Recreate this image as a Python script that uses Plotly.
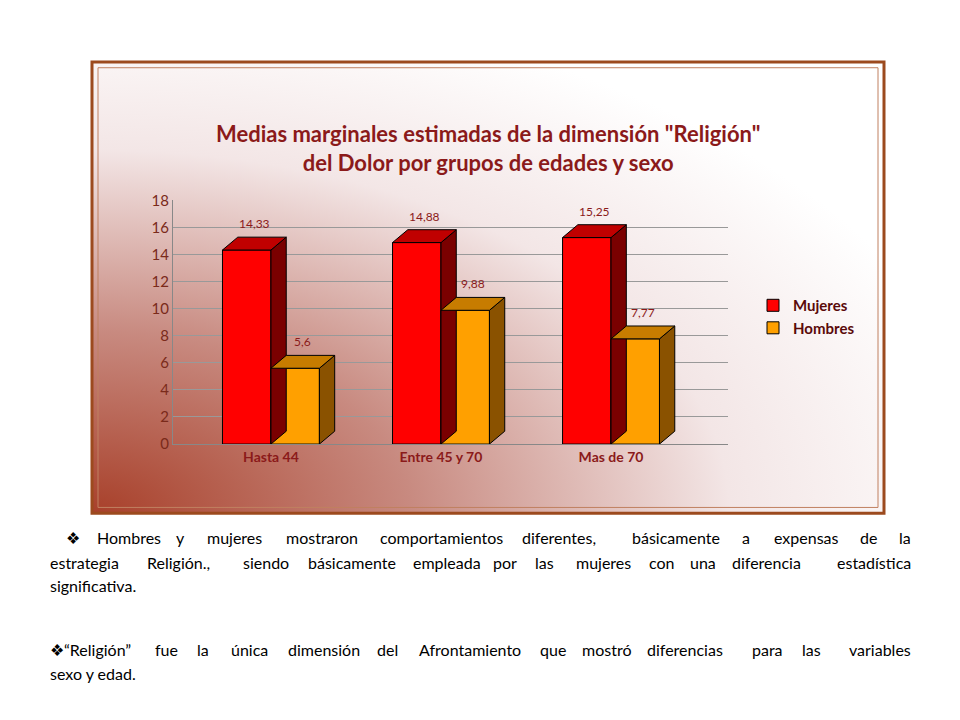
import base64
import plotly.graph_objects as go

# ---------------------------------------------------------------- data
groups = ["Hasta 44", "Entre 45 y 70", "Mas de 70"]
mujeres = [14.33, 14.88, 15.25]
hombres = [5.6, 9.88, 7.77]
mujeres_labels = ["14,33", "14,88", "15,25"]
hombres_labels = ["5,6", "9,88", "7,77"]
y_ticks = [0, 2, 4, 6, 8, 10, 12, 14, 16, 18]

# ---------------------------------------------------------------- style
W, H = 960, 720
bar_w = 0.285
dx, dy = 0.09, 0.95          # fake 3D depth in data units
series = [
    ("Mujeres", mujeres, mujeres_labels, -bar_w / 2, "#ff0000", "#7a0000", "#c00000"),
    ("Hombres", hombres, hombres_labels, bar_w / 2, "#ffa000", "#8a5200", "#c77c00"),
]
title_color = "#8b1a1a"
font_family = "Lato, 'Open Sans', sans-serif"


def px(x):
    return x / W


def py(y):
    return 1 - y / H


fig = go.Figure()
shapes = []
annotations = []

# background gradient inside the frame, as an svg image
svg = ('<svg xmlns="http://www.w3.org/2000/svg" width="792" height="463">'
       '<defs><radialGradient id="g" cx="0" cy="1" r="1.15" gradientUnits="objectBoundingBox">'
       '<stop offset="0" stop-color="#a8402a"/><stop offset="0.35" stop-color="#c88a80"/>'
       '<stop offset="0.7" stop-color="#f3e6e6"/><stop offset="1" stop-color="#ffffff"/>'
       '</radialGradient></defs><rect width="792" height="463" fill="url(#g)"/></svg>')
src = "data:image/svg+xml;base64," + base64.b64encode(svg.encode()).decode()
images = [dict(source=src, xref="paper", yref="paper", x=px(84), y=py(45),
               sizex=px(876) - px(84), sizey=py(45) - py(508), sizing="stretch",
               xanchor="left", yanchor="top", layer="below")]

# frame
shapes.append(dict(type="rect", xref="paper", yref="paper", x0=px(84), x1=px(876),
                   y0=py(508), y1=py(45), line=dict(color="#9c4a1e", width=3)))
shapes.append(dict(type="rect", xref="paper", yref="paper", x0=px(90), x1=px(870),
                   y0=py(502), y1=py(51), line=dict(color="#c08060", width=1)))

for name, vals, labels, off, front, side, top in series:
    xs = [i + off for i in range(len(groups))]
    fig.add_trace(go.Bar(x=xs, y=vals, width=bar_w, name=name,
                         marker=dict(color=front, line=dict(color="#000000", width=1))))
    for x, v, lab in zip(xs, vals, labels):
        x0, x1 = x - bar_w / 2, x + bar_w / 2
        shapes.append(dict(type="path", xref="x", yref="y", fillcolor=side,
                           line=dict(color="black", width=1),
                           path=f"M{x1},0 L{x1 + dx},{dy} L{x1 + dx},{v + dy} L{x1},{v} Z"))
        shapes.append(dict(type="path", xref="x", yref="y", fillcolor=top,
                           line=dict(color="black", width=1),
                           path=f"M{x0},{v} L{x0 + dx},{v + dy} L{x1 + dx},{v + dy} L{x1},{v} Z"))
        annotations.append(dict(x=x + dx / 2, y=v + dy, xref="x", yref="y", text=lab,
                                showarrow=False, yanchor="bottom", yshift=4,
                                font=dict(size=12, color="#8b1a1a", family=font_family)))

annotations.append(dict(x=0.5, y=py(103), xref="paper", yref="paper", showarrow=False,
                        text="<b>Medias marginales estimadas de la dimensión \"Religión\"<br>del Dolor por grupos de edades y sexo</b>",
                        font=dict(size=22, color=title_color, family=font_family)))

# bottom paragraphs, justified by placing words
lines = [
    ("❖ Hombres y mujeres mostraron comportamientos diferentes, básicamente a expensas de la", 545, True, 56),
    ("estrategia Religión., siendo básicamente empleada por las mujeres con una diferencia estadística", 570, True, 40),
    ("significativa.", 594, False, 40),
    ("❖“Religión” fue la única dimensión del Afrontamiento que mostró diferencias para las variables", 659, True, 40),
    ("sexo y edad.", 684, False, 40),
]
right_edge = 905
char_w = 7.9
for text, y, justify, left in lines:
    words = text.split(" ")
    if not justify:
        annotations.append(dict(x=px(left), y=py(y), xref="paper", yref="paper", showarrow=False,
                                xanchor="left", text=text,
                                font=dict(size=16, color="black", family=font_family)))
        continue
    widths = [len(w) * char_w for w in words]
    gap = (right_edge - left - sum(widths)) / (len(words) - 1)
    xpos = left
    for k, (w, wd) in enumerate(zip(words, widths)):
        last = k == len(words) - 1
        annotations.append(dict(x=px(right_edge if last else xpos), y=py(y), xref="paper", yref="paper",
                                showarrow=False, xanchor="right" if last else "left", text=w,
                                font=dict(size=16, color="black", family=font_family)))
        xpos += wd + gap

fig.update_layout(
    width=W, height=H, margin=dict(l=0, r=0, t=0, b=0),
    paper_bgcolor="white", plot_bgcolor="rgba(0,0,0,0)",
    barmode="overlay", shapes=shapes, annotations=annotations, images=images,
    font=dict(family=font_family, size=14, color="black"),
    legend=dict(x=px(745), y=py(278), xanchor="left", yanchor="top",
                bgcolor="rgba(0,0,0,0)", font=dict(size=15, color="#5a0a0a", weight="bold"),
                tracegroupgap=4),
    xaxis=dict(domain=[px(165), px(720)], range=[-0.576, 2.688],
               tickvals=list(range(len(groups))), ticktext=[f"<b>{g}</b>" for g in groups],
               tickfont=dict(size=14, color="#8b1a1a"), showgrid=False, zeroline=False,
               showline=True, linecolor="#888"),
    yaxis=dict(domain=[py(437), py(187)], range=[0, 18], tickvals=y_ticks,
               tickfont=dict(size=15, color="#7a2a1a"), gridcolor="#999", gridwidth=1,
               zeroline=False, showline=True, linecolor="#888", ticks=""),
)

fig.write_html("out.html")
